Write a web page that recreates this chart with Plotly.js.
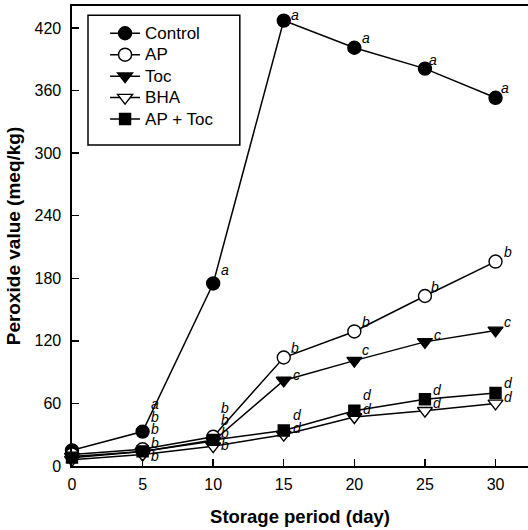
<!DOCTYPE html>
<html><head><meta charset="utf-8">
<script src="https://cdn.plot.ly/plotly-3.0.1.min.js"></script>
<style>html,body{margin:0;padding:0;background:#fff;}#chart{width:528px;height:530px;}</style>
</head><body><div id="chart"></div>
<script>
var days = [0, 5, 10, 15, 20, 25, 30];
var control = [15, 33, 175, 427, 401, 381, 353];
var ap = [11, 16, 28, 104, 129, 163, 196];
var toc = [9, 14, 24, 82, 101, 119, 130];
var bha = [6, 11, 19, 30, 47, 53, 60];
var apToc = [8, 14, 25, 34, 53, 64, 70];
var seriesNames = ["Control", "AP", "Toc", "BHA", "AP + Toc"];

var letterText = ["a","a","a","a","a","a",
  "b","b","b","b","b","b",
  "b","b","c","c","c","c",
  "b","b","d","d","d","d",
  "b","b","d","d","d","d"];
var letterX = [5.9,10.85,15.8,20.85,25.6,30.7,
  5.9,10.85,15.8,20.8,25.7,30.85,
  5.9,10.85,15.9,20.8,25.9,30.85,
  5.9,10.85,15.95,20.9,25.9,30.9,
  5.9,10.85,15.95,20.9,25.9,30.9];
var letterY = [59,188,432,410,389,362,
  47,56,113,138,172,205,
  35,44,87,111,126,138,
  22,32,49,68,73,80,
  10,20,36,55,60,66];

var F = "Liberation Sans, Arial, sans-serif";
function tr(name, y, symbol, fill, size) {
  return {x: days, y: y, name: '<span style="font-size:17px">' + name + '</span>',
    type: "scatter", mode: "lines+markers",
    line: {color: "#000", width: 1.5},
    marker: {symbol: symbol, size: size, color: fill, line: {color: "#000", width: 1.4}},
    cliponaxis: false};
}
var data = [
  tr(seriesNames[0], control, "circle", "#000", 13),
  tr(seriesNames[1], ap, "circle", "#fff", 13),
  tr(seriesNames[2], toc, "triangle-down", "#000", 13),
  tr(seriesNames[3], bha, "triangle-down", "#fff", 13),
  tr(seriesNames[4], apToc, "square", "#000", 11)
];

var annotations = letterText.map(function(t, i) {
  return {x: letterX[i], y: letterY[i], xref: "x", yref: "y", text: t, showarrow: false,
    xanchor: "center", yanchor: "middle", borderpad: 0,
    font: {family: F, size: 14, color: "#000", style: "italic"}};
});

var layout = {
  width: 528, height: 530,
  margin: {l: 72, r: 0, t: 6, b: 64},
  paper_bgcolor: "#fff", plot_bgcolor: "#fff",
  showlegend: true,
  legend: {x: 0.0725, y: 0.975, xanchor: "left", yanchor: "top",
    borderwidth: 0, bgcolor: "rgba(0,0,0,0)",
    font: {family: F, size: 14.2, color: "#000"}, tracegroupgap: 0},
  shapes: [{type: "rect", xref: "paper", yref: "paper", x0: 0.0351, x1: 0.368, y0: 0.698, y1: 0.980,
    line: {color: "#000", width: 1.5}, fillcolor: "#fff", layer: "above"}],
  xaxis: {range: [0, 32.3], tickvals: [0,5,10,15,20,25,30], ticks: "inside", ticklen: 7,
    tickwidth: 1.4, tickcolor: "#000", showline: true, linecolor: "#000", linewidth: 1.6,
    mirror: true, showgrid: false, zeroline: false, ticklabelstandoff: 3,
    tickfont: {family: F, size: 16, color: "#000"},
    title: {text: "<b>Storage period (day)</b>", font: {family: F, size: 18.5, color: "#000"}, standoff: 18}},
  yaxis: {range: [0, 441], tickvals: [0,60,120,180,240,300,360,420], ticks: "inside", ticklen: 7,
    tickwidth: 1.4, tickcolor: "#000", showline: true, linecolor: "#000", linewidth: 1.6,
    showgrid: false, zeroline: false, ticklabelstandoff: 6,
    tickfont: {family: F, size: 16, color: "#000"},
    title: {text: "<b>Peroxide value (meq/kg)</b>", font: {family: F, size: 19, color: "#000"}, standoff: 9}},
  annotations: annotations
};
Plotly.newPlot("chart", data, layout, {staticPlot: true, displayModeBar: false});
</script></body></html>
